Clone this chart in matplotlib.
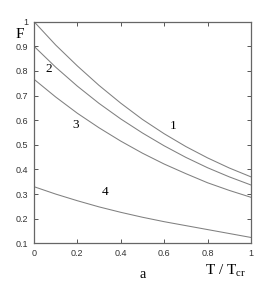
import matplotlib
matplotlib.use("Agg")
import matplotlib.pyplot as plt
from matplotlib import font_manager

# values
t = [0.0, 0.1, 0.2, 0.3, 0.4, 0.5, 0.6, 0.7, 0.8, 0.9, 1.0]
f1 = [1.0, 0.905, 0.82, 0.741, 0.669, 0.603, 0.545, 0.493, 0.447, 0.406, 0.37]
f2 = [0.90, 0.815, 0.738, 0.668, 0.605, 0.548, 0.496, 0.449, 0.407, 0.37, 0.337]
f3 = [0.766, 0.694, 0.628, 0.569, 0.515, 0.466, 0.422, 0.383, 0.346, 0.315, 0.287]
f4 = [0.33, 0.30, 0.273, 0.248, 0.226, 0.206, 0.188, 0.172, 0.156, 0.14, 0.124]
curves = [f1, f2, f3, f4]
labels = ["1", "2", "3", "4"]
label_pos = [(0.64, 0.576), (0.066, 0.807), (0.194, 0.58), (0.327, 0.307)]

xticks = [0, 0.2, 0.4, 0.6, 0.8, 1]
xticklabels = ["0", "0.2", "0.4", "0.6", "0.8", "1"]
yticks = [0.1, 0.2, 0.3, 0.4, 0.5, 0.6, 0.7, 0.8, 0.9, 1.0]
yticklabels = ["0.1", "0.2", "0.3", "0.4", "0.5", "0.6", "0.7", "0.8", "0.9", "1"]

line_col = "#808080"
serif = "Liberation Serif"

plt.rcParams["mathtext.fontset"] = "custom"
plt.rcParams["mathtext.rm"] = serif


def tick_family():
    names = {f.name for f in font_manager.fontManager.ttflist}
    if "Liberation Sans Narrow" in names:
        return "Liberation Sans Narrow"
    return "Liberation Sans"


def main():
    fig = plt.figure(figsize=(2.73, 2.88), dpi=100)
    ax = fig.add_axes([0.1245, 0.155, 0.7945, 0.77])

    for f in curves:
        ax.plot(t, f, color=line_col, lw=0.75)

    for lab, (x, y) in zip(labels, label_pos):
        ax.text(x, y, lab, family=serif, fontsize=9.5, ha="center", va="center")

    ax.set_xlim(0, 1)
    ax.set_ylim(0.1, 1)
    ax.set_xticks(xticks)
    ax.set_xticklabels(xticklabels)
    ax.set_yticks(yticks)
    ax.set_yticklabels(yticklabels)
    ax.tick_params(direction="in", top=True, right=True, length=3, width=0.7,
                   color="#555555", labelsize=6.5, pad=4)
    fam = tick_family()
    for lbl in ax.get_xticklabels() + ax.get_yticklabels():
        lbl.set_family(fam)
        lbl.set_color("#333333")
    for sp in ax.spines.values():
        sp.set_color("#666666")
        sp.set_linewidth(0.9)

    fig.text(20 / 273, 1 - 35 / 288, "F", family=serif, fontsize=11,
             ha="center", va="center")
    fig.text(225 / 273, 1 - 271 / 288, r"T / T$_{\rm cr}$", family=serif,
             fontsize=11, ha="center", va="center")
    fig.text(143 / 273, 1 - 275 / 288, "a", family=serif, fontsize=10,
             ha="center", va="center")

    fig.savefig("out.png", dpi=100)


if __name__ == '__main__':
    main()
